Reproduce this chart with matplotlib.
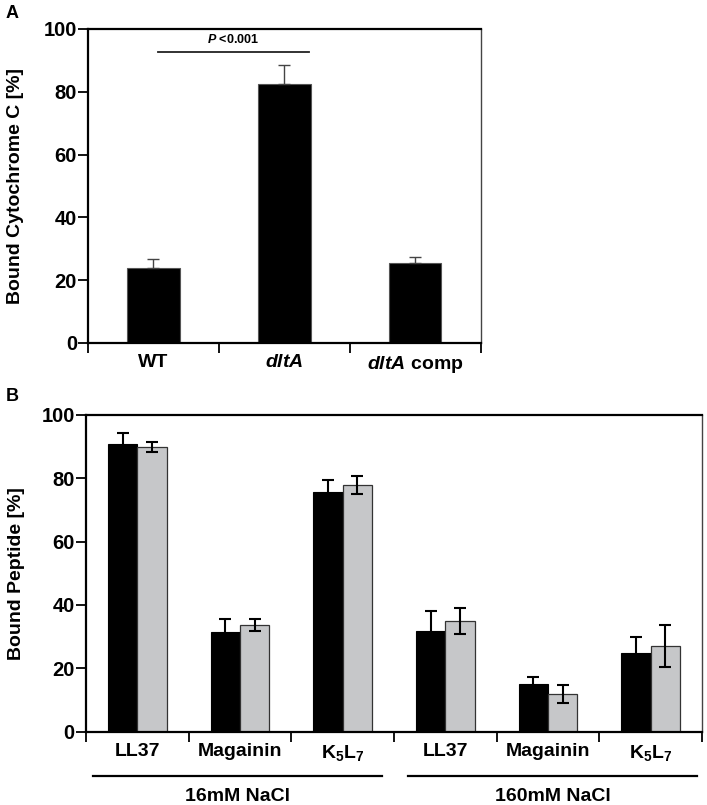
import matplotlib
matplotlib.use('Agg')
import matplotlib.pyplot as plt
import numpy as np

plt.rcParams['font.family'] = ['Liberation Sans', 'DejaVu Sans']
plt.rcParams['font.weight'] = 'bold'
plt.rcParams['axes.labelweight'] = 'bold'
plt.rcParams['mathtext.fontset'] = 'custom'
plt.rcParams['mathtext.rm'] = 'Liberation Sans:bold'
plt.rcParams['mathtext.bf'] = 'Liberation Sans:bold'
plt.rcParams['mathtext.it'] = 'Liberation Sans:italic:bold'

# panel A data
strains = ['WT', r'$\mathit{dltA}$', r'$\mathit{dltA}$ comp']
cyto_mean = [23.9, 82.6, 25.6]
cyto_err = [2.8, 5.9, 1.9]

# panel B data
peptides = ['LL37', 'Magainin', r'K$_5$L$_7$', 'LL37', 'Magainin', r'K$_5$L$_7$']
salt_groups = ['16mM NaCl', '160mM NaCl']
bound_black = [90.7, 31.6, 75.8, 31.9, 15.0, 24.8]
err_black = [3.5, 4.1, 3.7, 6.3, 2.4, 5.1]
bound_grey = [89.9, 33.7, 77.9, 35.0, 11.9, 27.0]
err_grey = [1.5, 2.0, 2.7, 4.1, 2.8, 6.6]

fig = plt.figure(figsize=(7.07, 8.05), dpi=100)

def style_axes(ax, n):
    ax.set_ylim(0, 100)
    ax.set_xlim(-0.5, n - 0.5)
    ax.set_yticks(range(0, 101, 20))
    ax.set_xticks(range(n))
    ax.set_xticks(np.arange(-0.5, n, 1.0), minor=True)
    ax.tick_params(axis='x', which='major', length=0, pad=8, labelsize=14)
    ax.tick_params(axis='x', which='minor', length=7, width=1.3, direction='out')
    ax.tick_params(axis='y', length=7, width=1.3, labelsize=14.5, pad=1)
    for s in ['left', 'bottom', 'top']:
        ax.spines[s].set_linewidth(1.6)
    ax.spines['right'].set_linewidth(1.0)
    ax.spines['right'].set_color('#444444')

# ---- panel A
axA = fig.add_axes([0.1245, 0.574, 0.5555, 0.390])
x = np.arange(len(strains))
axA.bar(x, cyto_mean, width=0.40, color='black', edgecolor='#555555', linewidth=0.8, zorder=2)
axA.errorbar(x, cyto_mean, yerr=[np.zeros(3), cyto_err], fmt='none', ecolor='#444444',
             elinewidth=1.0, capsize=4, capthick=1.0, zorder=3)
style_axes(axA, len(strains))
axA.set_xticklabels(strains)
axA.set_ylabel('Bound Cytochrome C [%]', fontsize=14)
axA.yaxis.set_label_coords(-0.162, 0.5)
axA.plot([0.034, 1.187], [92.8, 92.8], color='#222222', lw=1.3, zorder=3)
axA.text(0.61, 94.5, r'$\mathit{P}$ <0.001', ha='center', va='bottom', fontsize=9)
fig.text(0.008, 0.983, 'A', fontsize=13, fontweight='bold', va='center')

# ---- panel B
axB = fig.add_axes([0.1216, 0.0911, 0.8714, 0.3934])
xb = np.arange(len(peptides))
w = 0.285
axB.bar(xb - w / 2, bound_black, width=w, color='black', edgecolor='black', linewidth=0.8, zorder=2)
axB.bar(xb + w / 2, bound_grey, width=w, color='#c6c7c9', edgecolor='#333333', linewidth=0.9, zorder=2)
axB.errorbar(xb - w / 2, bound_black, yerr=err_black, fmt='none', ecolor='black',
             elinewidth=1.5, capsize=4, capthick=1.5, zorder=3)
axB.errorbar(xb + w / 2, bound_grey, yerr=err_grey, fmt='none', ecolor='black',
             elinewidth=1.5, capsize=4, capthick=1.5, zorder=3)
style_axes(axB, len(peptides))
axB.set_xticklabels(peptides)
axB.set_ylabel('Bound Peptide [%]', fontsize=14)
axB.yaxis.set_label_coords(-0.099, 0.5)

trans = axB.get_xaxis_transform()
spans = [(-0.43, 2.38), (2.64, 5.45)]
for (a, b), name in zip(spans, salt_groups):
    axB.plot([a, b], [-0.14, -0.14], color='black', lw=1.6, transform=trans, clip_on=False)
    axB.text((a + b) / 2, -0.205, name, transform=trans, ha='center', va='center', fontsize=14)
fig.text(0.008, 0.507, 'B', fontsize=13, fontweight='bold', va='center')

fig.savefig('out.png', dpi=100)
